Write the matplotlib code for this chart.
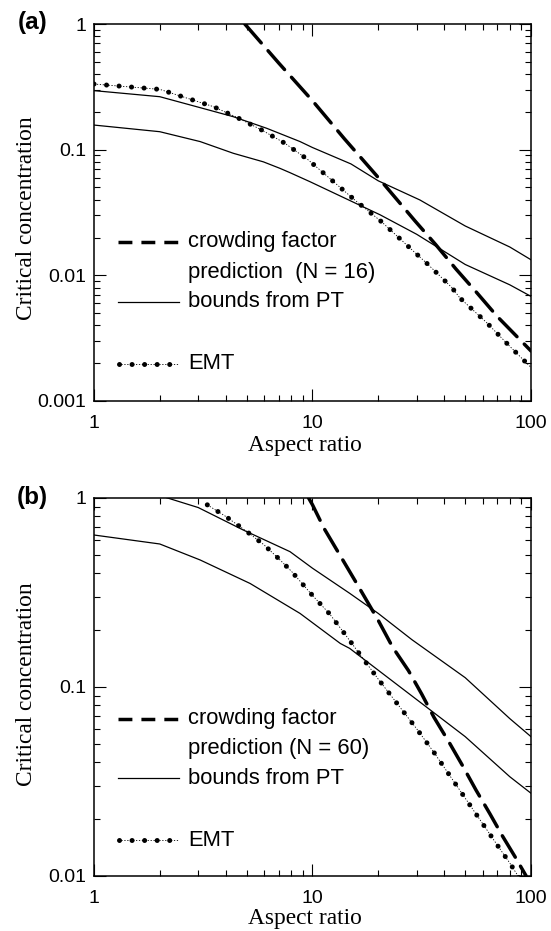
import matplotlib
matplotlib.use("Agg")
import matplotlib.pyplot as plt
from matplotlib.ticker import FixedLocator, FixedFormatter, LogLocator, NullFormatter

# ---------------- data ----------------
# Panel (a), N = 16
a_crowd_x = [4.9, 7, 10, 14, 20, 29.4, 36.7, 45.4, 56.4, 70.1, 100]
a_crowd_y = [1.0, 0.49, 0.245, 0.122, 0.06, 0.0272, 0.0175, 0.0112, 0.0073, 0.0047, 0.0025]
a_pt_hi_x = [1, 2, 3, 4.34, 6.17, 8.77, 10, 15, 20, 31, 50, 80, 100]
a_pt_hi_y = [0.295, 0.264, 0.218, 0.183, 0.148, 0.116, 0.104, 0.077, 0.0565, 0.0398, 0.0247, 0.0168, 0.0133]
a_pt_lo_x = [1, 2, 3.06, 4.34, 5.96, 7.1, 7.89, 9.74, 15, 20.4, 30, 50, 80, 100]
a_pt_lo_y = [0.157, 0.139, 0.116, 0.0936, 0.080, 0.071, 0.0656, 0.0556, 0.039, 0.0303, 0.0212, 0.0122, 0.0084, 0.0068]
a_emt_x = [1, 2, 3.52, 4.5, 5.85, 7.48, 9.57, 12, 15.6, 20.7, 29.4, 33.3, 43.4, 47.3, 62.7, 78.7, 100]
a_emt_y = [0.333, 0.302, 0.22, 0.181, 0.1435, 0.1124, 0.0828, 0.059, 0.0398, 0.0267, 0.0152, 0.0125, 0.0080, 0.0066, 0.0042, 0.0028, 0.00185]

# Panel (b), N = 60
b_crowd_x = [9.6, 10, 11.3, 13, 16, 20, 23.3, 27.5, 31.6, 36, 42.3, 48.7, 56, 64.9, 74.2, 85, 95]
b_crowd_y = [1.0, 0.92, 0.69, 0.525, 0.35, 0.225, 0.162, 0.122, 0.0918, 0.069, 0.0507, 0.0382, 0.0285, 0.0213, 0.0162, 0.0125, 0.0100]
b_pt_hi_x = [1, 2, 3, 4.82, 7.89, 10, 14.8, 20, 28.5, 50, 80, 100]
b_pt_hi_y = [1.15, 1.03, 0.89, 0.677, 0.52, 0.425, 0.313, 0.245, 0.178, 0.112, 0.068, 0.0546]
b_pt_lo_x = [1, 2, 3.06, 5.18, 8.77, 13.4, 14.8, 20.4, 50, 80, 100]
b_pt_lo_y = [0.637, 0.571, 0.47, 0.353, 0.245, 0.17, 0.16, 0.1205, 0.0546, 0.0335, 0.0274]
b_emt_x = [3.3, 4, 5, 6, 7, 8, 10, 12, 14, 20, 30, 36, 50, 70, 80, 100]
b_emt_y = [0.92, 0.80, 0.665, 0.565, 0.478, 0.41, 0.305, 0.243, 0.192, 0.11, 0.06, 0.045, 0.0258, 0.0146, 0.0117, 0.0078]

x_major = [1, 10, 100]
x_major_labels = ["1", "10", "100"]
a_y_major = [0.001, 0.01, 0.1, 1]
a_y_major_labels = ["0.001", "0.01", "0.1", "1"]
b_y_major = [0.01, 0.1, 1]
b_y_major_labels = ["0.01", "0.1", "1"]

legend_a = ["crowding factor", "prediction  (N = 16)", "bounds from PT", "EMT"]
legend_b = ["crowding factor", "prediction (N = 60)", "bounds from PT", "EMT"]

# ---------------- styling ----------------
SANS = "Liberation Sans"
SERIF = "Liberation Serif"
plt.rcParams["font.family"] = [SANS, "DejaVu Sans"]

CROWD = dict(color="black", lw=2.5, dashes=(7.2, 3.0), dash_capstyle="round")
PT = dict(color="black", lw=0.9)
EMT_DOT = dict(color="black", lw=3.6, linestyle=(0, (0.01, 2.5)), dash_capstyle="round")
EMT_THIN = dict(color="black", lw=0.6, linestyle=(0, (1.5, 2.0)))

fig = plt.figure(figsize=(5.51, 9.31), dpi=100)
ax_a = fig.add_axes([0.1706, 0.5693, 0.7931, 0.4049])
ax_b = fig.add_axes([0.1706, 0.0591, 0.7931, 0.4060])


def draw_panel(ax, crowd, hi, lo, emt, ylim, yticks, ylabels, leg, rows, ylab_y, xlab_y):
    ax.set_xscale("log")
    ax.set_yscale("log")
    ax.plot(emt[0], emt[1], **EMT_THIN)
    ax.plot(emt[0], emt[1], **EMT_DOT)
    ax.plot(hi[0], hi[1], **PT)
    ax.plot(lo[0], lo[1], **PT)
    ax.plot(crowd[0], crowd[1], **CROWD)
    ax.set_xlim(1, 100)
    ax.set_ylim(*ylim)

    ax.xaxis.set_major_locator(FixedLocator(x_major))
    ax.xaxis.set_major_formatter(FixedFormatter(x_major_labels))
    ax.xaxis.set_minor_locator(LogLocator(base=10, subs=range(2, 10)))
    ax.xaxis.set_minor_formatter(NullFormatter())
    ax.yaxis.set_major_locator(FixedLocator(yticks))
    ax.yaxis.set_major_formatter(FixedFormatter(ylabels))
    ax.yaxis.set_minor_locator(LogLocator(base=10, subs=range(2, 10)))
    ax.yaxis.set_minor_formatter(NullFormatter())

    ax.tick_params(which="both", direction="in", top=True, right=True,
                   width=0.8, colors="black", labelsize=14)
    ax.tick_params(which="major", length=8.6)
    ax.tick_params(which="minor", length=4.3)
    ax.tick_params(axis="x", which="major", pad=9.8)
    ax.tick_params(axis="y", which="major", pad=5.8)
    for sp in ax.spines.values():
        sp.set_linewidth(1.1)
        sp.set_color("black")

    ax.set_ylabel("Critical concentration", family=SERIF, fontsize=16.8)
    ax.yaxis.set_label_coords(-0.131, ylab_y)
    ax.set_xlabel("Aspect ratio", family=SERIF, fontsize=16.8)
    ax.xaxis.set_label_coords(0.483, xlab_y)

    # key (drawn like the original: samples + text, irregular spacing)
    x0, x1, xt = 0.054, 0.195, 0.215
    ax.plot([x0, x1], [rows[0], rows[0]], transform=ax.transAxes, color="black",
            lw=2.5, dashes=(4.0, 2.6), dash_capstyle="butt", clip_on=False)
    ax.plot([x0, x1], [rows[2], rows[2]], transform=ax.transAxes, clip_on=False, **PT)
    ax.plot([x0, x1], [rows[3], rows[3]], transform=ax.transAxes, clip_on=False, **EMT_THIN)
    ax.plot([x0 + 0.004, x1], [rows[3], rows[3]], transform=ax.transAxes, clip_on=False, **EMT_DOT)
    for r, t in zip(rows, leg):
        ax.text(xt, r, t, transform=ax.transAxes, ha="left", va="center",
                fontsize=15.8, family=SANS)


draw_panel(ax_a, (a_crowd_x, a_crowd_y), (a_pt_hi_x, a_pt_hi_y), (a_pt_lo_x, a_pt_lo_y),
           (a_emt_x, a_emt_y), (0.001, 1), a_y_major, a_y_major_labels, legend_a,
           [0.422, 0.342, 0.263, 0.099], 0.484, -0.090)
draw_panel(ax_b, (b_crowd_x, b_crowd_y), (b_pt_hi_x, b_pt_hi_y), (b_pt_lo_x, b_pt_lo_y),
           (b_emt_x, b_emt_y), (0.01, 1), b_y_major, b_y_major_labels, legend_b,
           [0.416, 0.337, 0.258, 0.094], 0.508, -0.086)

fig.text(0.0585, 0.9758, "(a)", fontsize=17.5, weight="bold", family=SANS, ha="center", va="center")
fig.text(0.0585, 0.4656, "(b)", fontsize=17.5, weight="bold", family=SANS, ha="center", va="center")

fig.savefig("out.png", dpi=100, facecolor="white")
